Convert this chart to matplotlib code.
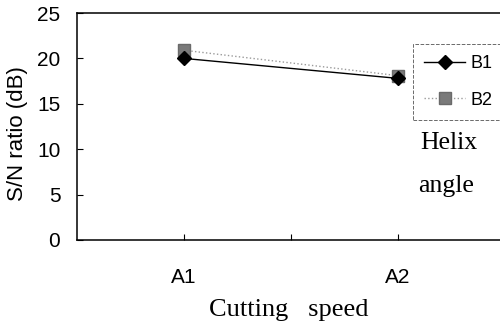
import matplotlib
matplotlib.use('Agg')
import matplotlib.pyplot as plt

# data
levels = ['A1', 'A2']
b1 = [20.0, 17.8]
b2 = [20.9, 18.1]
yticks = [0, 5, 10, 15, 20, 25]

narrow = ['Liberation Sans Narrow', 'Liberation Sans']
serif = 'Liberation Serif'
plt.rcParams['font.family'] = narrow

fig = plt.figure(figsize=(5.0, 3.26), dpi=100)
ax = fig.add_axes([0.154, 0.264, 0.856, 0.696])

x = [1, 2]
ax.plot(x, b1, color='black', lw=1.0, marker='D', ms=7, label='B1', zorder=3)
ax.plot(x, b2, color='#9a9a9a', lw=1.0, ls=':', marker='s', ms=8,
        mfc='#7a7a7a', mec='#6a6a6a', label='B2', zorder=2)

ax.set_xlim(0.5, 2.5)
ax.set_ylim(0, 25)
ax.set_yticks(yticks)
ax.set_xticks([1, 1.5, 2])
ax.set_xticklabels([levels[0], '', levels[1]])
ax.tick_params(axis='both', direction='in', length=4, width=0.8, labelsize=15)
ax.tick_params(axis='x', pad=20)
ax.tick_params(axis='y', pad=12)
ax.spines['right'].set_visible(False)
for s in ['left', 'bottom', 'top']:
    ax.spines[s].set_linewidth(1.1)

fig.text(18 / 500, 0.59, 'S/N ratio (dB)', rotation=90, fontsize=16,
         family='Liberation Sans', ha='center', va='center')
fig.text(0.577, 0.031, 'Cutting   speed', fontsize=19, family=serif,
         ha='center', va='baseline')

leg = ax.legend(loc='upper left', bbox_to_anchor=(0.826, 0.865),
                bbox_transform=fig.transFigure, fontsize=13, frameon=True,
                fancybox=False, handlelength=2.3, handletextpad=0.3,
                borderpad=0.6, labelspacing=1.1, borderaxespad=0)
leg.get_frame().set_edgecolor('#444444')
leg.get_frame().set_linestyle('--')
leg.get_frame().set_linewidth(0.7)

fig.text(0.84, 1 - 149 / 326, 'Helix', fontsize=18.5, family=serif, va='baseline')
fig.text(0.836, 1 - 192 / 326, 'angle', fontsize=18.5, family=serif, va='baseline')

fig.savefig('out.png', dpi=100)
